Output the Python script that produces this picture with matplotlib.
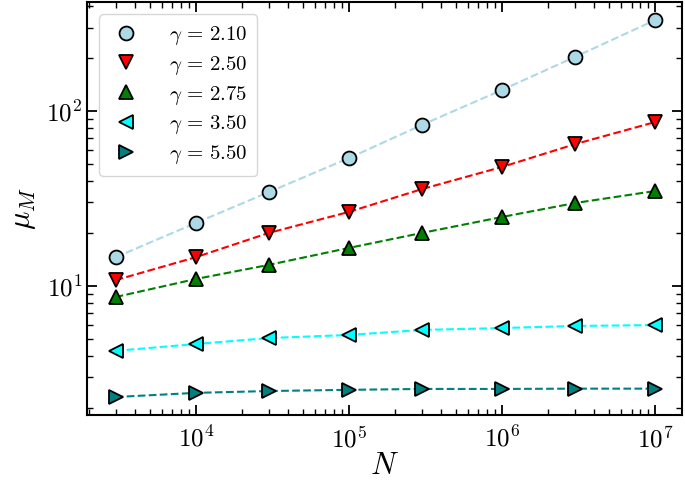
import numpy as np
import matplotlib
matplotlib.use("Agg")
import matplotlib.pyplot as plt
from matplotlib.lines import Line2D
from matplotlib.ticker import FuncFormatter, LogLocator, NullFormatter

plt.rcParams['mathtext.fontset'] = 'cm'
plt.rcParams['font.family'] = 'serif'
plt.rcParams['font.serif'] = ['cmr10', 'DejaVu Serif']
plt.rcParams['axes.formatter.use_mathtext'] = True

N = [3e3, 1e4, 3e4, 1e5, 3e5, 1e6, 3e6, 1e7]
gammas = ["2.10", "2.50", "2.75", "3.50", "5.50"]
mu_210 = [14.6, 22.9, 34.4, 53.8, 83.3, 132, 204, 331]
mu_250 = [10.8, 14.6, 20.1, 26.5, 35.8, 47.9, 64.7, 86.5]
mu_275 = [8.65, 10.96, 13.2, 16.5, 20.1, 24.8, 29.8, 34.9]
mu_350 = [4.26, 4.66, 5.04, 5.25, 5.61, 5.75, 5.91, 5.98]
mu_550 = [2.32, 2.45, 2.51, 2.55, 2.58, 2.58, 2.59, 2.59]

series = [mu_210, mu_250, mu_275, mu_350, mu_550]
colors = ['lightblue', 'red', 'green', 'cyan', 'teal']
markers = ['o', 'v', '^', '<', '>']

fig = plt.figure(figsize=(6.85, 4.86), dpi=100)
ax = fig.add_axes([0.127, 0.146, 0.869, 0.850])

handles = []
for g, y, c, m in zip(gammas, series, colors, markers):
    ax.plot(N, y, linestyle='--', color=c, lw=1.5, marker=m, ms=10,
            mfc=c, mec='black', mew=1.3)
    handles.append(Line2D([], [], linestyle='none', marker=m, ms=10, mfc=c,
                          mec='black', mew=1.3,
                          label=r'$\gamma \,=\, %s$' % g))

ax.set_xscale('log')
ax.set_yscale('log')
ax.set_xlim(1950, 1.5e7)
ax.set_ylim(1.83, 420)

fmt = FuncFormatter(lambda v, p: r'$10^{%d}$' % int(round(np.log10(v))))
ax.xaxis.set_major_formatter(fmt)
ax.yaxis.set_major_formatter(fmt)
ax.xaxis.set_minor_formatter(NullFormatter())
ax.yaxis.set_minor_formatter(NullFormatter())
ax.xaxis.set_minor_locator(LogLocator(base=10, subs=np.arange(2, 10), numticks=20))
ax.yaxis.set_minor_locator(LogLocator(base=10, subs=np.arange(2, 10), numticks=20))

ax.tick_params(which='both', direction='in', top=True, right=True, labelsize=18)
ax.tick_params(which='major', length=7, width=1.3)
ax.tick_params(which='minor', length=4, width=1.0)
ax.tick_params(axis='x', which='major', pad=8)
for s in ax.spines.values():
    s.set_linewidth(1.5)

ax.set_xlabel(r'$N$', fontsize=22, labelpad=0)
ax.set_ylabel(r'$\mu_M$', fontsize=22, labelpad=6)

ax.legend(handles=handles, loc='upper left', fontsize=15, handlelength=1.6,
          handletextpad=1.3, borderpad=0.45, labelspacing=0.33, frameon=True,
          borderaxespad=0.6)

fig.savefig('out.png', dpi=100)
